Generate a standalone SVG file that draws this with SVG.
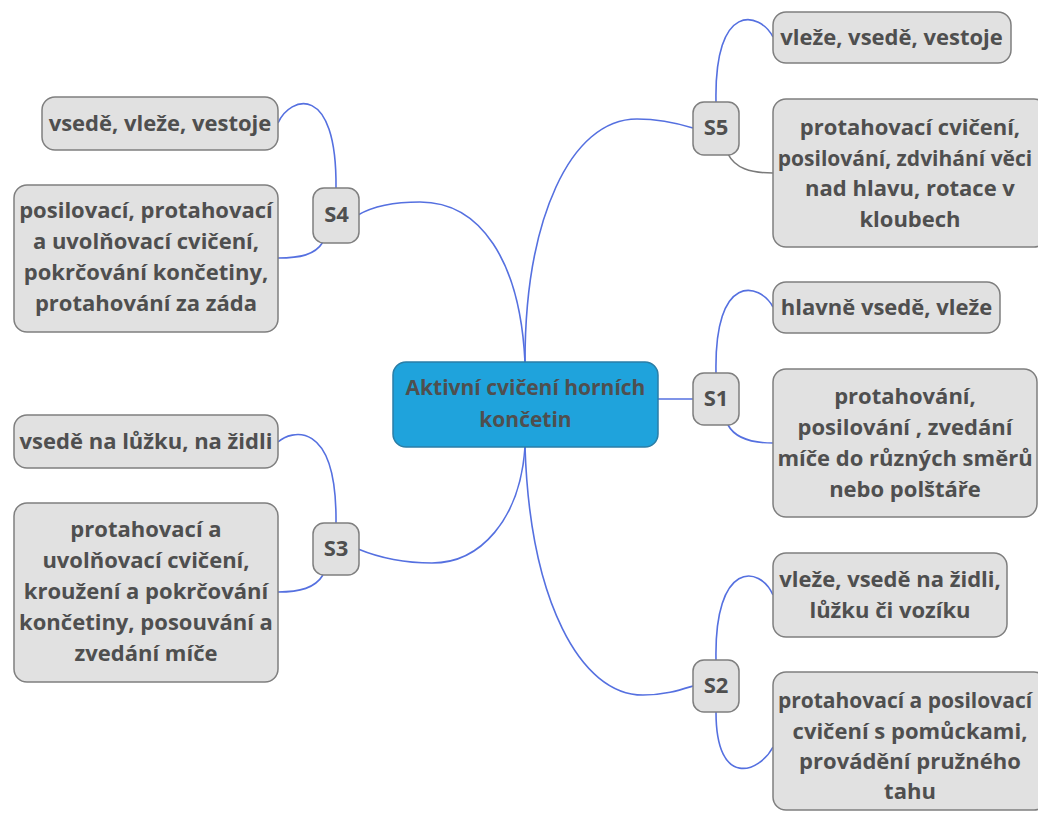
<svg xmlns="http://www.w3.org/2000/svg" width="1038" height="814" viewBox="0 0 1038 814">
<style>
.leaf{fill:#e1e1e1;stroke:#7f7f7f;stroke-width:1.5}
.sub{fill:#e1e1e1;stroke:#7f7f7f;stroke-width:1.5}
.root{fill:#1fa3dc;stroke:#2b7ea6;stroke-width:1.5}
text{font-family:"Open Sans","Noto Sans","DejaVu Sans",sans-serif;font-weight:bold;font-size:22px;fill:#4f4f4f;text-anchor:middle}
text.r{font-size:21px}
text.w{font-size:21px}
.c{fill:none;stroke:#5570e0;stroke-width:1.6}
.cg{fill:none;stroke:#7a7a7a;stroke-width:1.6}
</style>
<rect width="1038" height="814" fill="#ffffff"/>
<g id="connectors">
<path class="c" d="M525,362 C525,220 570,119 637,119 C660,119 680,124 693,128"/>
<path class="c" d="M525,362 C520,260 480,202 420,202 C390,202 370,208 358,215"/>
<path class="c" d="M658,399 L693,399"/>
<path class="c" d="M525,447 C520,520 480,563 432,563 C400,563 375,556 358,549"/>
<path class="c" d="M525,447 C530,600 580,695 643,695 C665,695 680,690 693,686"/>
<path class="c" d="M716,102 C714,0 760,12 773,37"/>
<path class="cg" d="M728,154 C735,168 750,173 773,173"/>
<path class="c" d="M336,188 C337,82 290,96 278,123"/>
<path class="c" d="M323,242 C315,255 300,258 278,258"/>
<path class="c" d="M716,373 C714,271 760,283 773,307"/>
<path class="c" d="M728,425 C735,438 750,443 773,443"/>
<path class="c" d="M336,523 C337,417 290,431 278,442"/>
<path class="c" d="M323,575 C315,588 300,592 278,592"/>
<path class="c" d="M716,660 C714,560 760,565 773,595"/>
<path class="c" d="M716,712 C716,790 760,772 773,747"/>
</g>
<g id="root">
<rect class="root" x="393" y="362" width="265" height="85" rx="13"/>
<text class="r" x="525.5" y="395">Aktivní cvičení horních</text>
<text class="r" x="525.5" y="427">končetin</text>
</g>
<g id="s5">
<rect class="sub" x="693" y="102" width="46" height="53" rx="11"/>
<text x="716" y="135">S5</text>
</g>
<g id="s5a">
<rect class="leaf" x="773" y="12" width="238" height="51" rx="13"/>
<text x="891.5" y="45">vleže, vsedě, vestoje</text>
</g>
<g id="s5b">
<rect class="leaf" x="773" y="99" width="274" height="148" rx="13"/>
<text x="910" y="135">protahovací cvičení,</text>
<text class="w" x="905" y="166">posilování, zdvihání věci</text>
<text x="910" y="196">nad hlavu, rotace v</text>
<text x="910" y="227">kloubech</text>
</g>
<g id="s4">
<rect class="sub" x="313" y="188" width="46" height="55" rx="11"/>
<text x="336.5" y="222">S4</text>
</g>
<g id="s4a">
<rect class="leaf" x="42" y="97" width="236" height="53" rx="13"/>
<text x="160" y="131">vsedě, vleže, vestoje</text>
</g>
<g id="s4b">
<rect class="leaf" x="14" y="185" width="264" height="147" rx="13"/>
<text x="146" y="218">posilovací, protahovací</text>
<text x="146" y="249">a uvolňovací cvičení,</text>
<text x="146" y="280">pokrčování končetiny,</text>
<text x="146" y="311">protahování za záda</text>
</g>
<g id="s1">
<rect class="sub" x="693" y="373" width="46" height="52" rx="11"/>
<text x="716" y="405.5">S1</text>
</g>
<g id="s1a">
<rect class="leaf" x="773" y="282" width="227" height="51" rx="13"/>
<text x="886.5" y="315">hlavně vsedě, vleže</text>
</g>
<g id="s1b">
<rect class="leaf" x="773" y="369" width="264" height="148" rx="13"/>
<text x="905" y="404">protahování,</text>
<text x="905" y="435">posilování , zvedání</text>
<text x="905" y="466">míče do různých směrů</text>
<text x="905" y="497">nebo polštáře</text>
</g>
<g id="s3">
<rect class="sub" x="313" y="523" width="46" height="52" rx="11"/>
<text x="336" y="555.5">S3</text>
</g>
<g id="s3a">
<rect class="leaf" x="14" y="415" width="264" height="53" rx="13"/>
<text x="146" y="449">vsedě na lůžku, na židli</text>
</g>
<g id="s3b">
<rect class="leaf" x="14" y="503" width="264" height="179" rx="13"/>
<text x="146" y="537">protahovací a</text>
<text x="146" y="568">uvolňovací cvičení,</text>
<text x="146" y="599">kroužení a pokrčování</text>
<text x="146" y="630">končetiny, posouvání a</text>
<text x="146" y="661">zvedání míče</text>
</g>
<g id="s2">
<rect class="sub" x="693" y="660" width="46" height="52" rx="11"/>
<text x="716" y="692.5">S2</text>
</g>
<g id="s2a">
<rect class="leaf" x="773" y="553" width="234" height="84" rx="13"/>
<text x="890" y="587">vleže, vsedě na židli,</text>
<text x="890" y="618">lůžku či vozíku</text>
</g>
<g id="s2b">
<rect class="leaf" x="773" y="672" width="274" height="138" rx="13"/>
<text class="w" x="905" y="708">protahovací a posilovací</text>
<text x="910" y="739">cvičení s pomůckami,</text>
<text x="910" y="769">provádění pružného</text>
<text x="910" y="799">tahu</text>
</g>
</svg>
